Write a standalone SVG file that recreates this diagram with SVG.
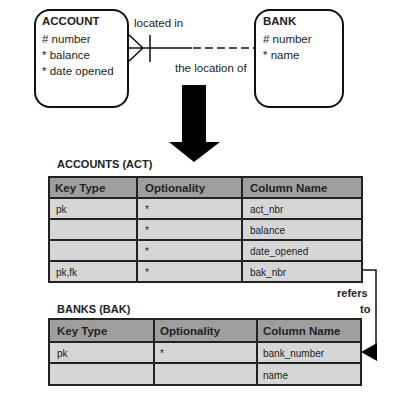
<svg xmlns="http://www.w3.org/2000/svg" width="420" height="416" viewBox="0 0 420 416">
<style>
.ent{fill:#fff;stroke:#111;stroke-width:2}
.t{font-family:"Liberation Sans",Arial,sans-serif;fill:#222}
.eb{font-size:11.5px;font-weight:bold}
.er{font-size:11.5px}
.hd{fill:#9e9e9e;stroke:#222;stroke-width:2}
.rw{fill:#d6d6d6;stroke:#222;stroke-width:2}
.th{font-size:11.5px;font-weight:bold}
.td{font-size:10px}
.ln{fill:none;stroke:#111;stroke-width:1.5}
</style>
<rect width="420" height="416" fill="#fff"/>
<g id="account">
<rect class="ent" x="35" y="10" width="93" height="97" rx="15"/>
<text class="t eb" x="42" y="25">ACCOUNT</text>
<text class="t er" x="42" y="43"># number</text>
<text class="t er" x="42" y="59">* balance</text>
<text class="t er" x="42" y="75">* date opened</text>
</g>
<g id="bank">
<rect class="ent" x="255" y="10" width="88" height="97" rx="15"/>
<text class="t eb" x="263" y="25">BANK</text>
<text class="t er" x="263" y="43"># number</text>
<text class="t er" x="263" y="59">* name</text>
</g>
<g id="connectors">
<path class="ln" d="M128 48H192M128 34L143 48L128 62M150 35V62"/>
<path class="ln" d="M193 48H255" stroke-dasharray="8 4"/>
<text class="t er" x="134" y="27">located in</text>
<text class="t er" x="175" y="72">the location of</text>
<polygon points="182,85 206,85 206,142 220,142 194,162 169,142 182,142" fill="#000"/>
<path class="ln" d="M362 270H376V352"/>
<polygon points="361,352 377,343 377,361" fill="#000"/>
<text class="t th" x="337" y="297" style="font-size:11px">refers</text>
<text class="t th" x="360" y="313" style="font-size:11px">to</text>
</g>
<g id="accounts-table">
<text class="t th" x="57" y="168" style="font-size:11px">ACCOUNTS (ACT)</text>
<rect class="hd" x="49" y="177" width="88" height="21"/>
<rect class="hd" x="137" y="177" width="105" height="21"/>
<rect class="hd" x="242" y="177" width="120" height="21"/>
<rect class="rw" x="49" y="198" width="88" height="21"/>
<rect class="rw" x="137" y="198" width="105" height="21"/>
<rect class="rw" x="242" y="198" width="120" height="21"/>
<rect class="rw" x="49" y="219" width="88" height="21"/>
<rect class="rw" x="137" y="219" width="105" height="21"/>
<rect class="rw" x="242" y="219" width="120" height="21"/>
<rect class="rw" x="49" y="240" width="88" height="21"/>
<rect class="rw" x="137" y="240" width="105" height="21"/>
<rect class="rw" x="242" y="240" width="120" height="21"/>
<rect class="rw" x="49" y="261" width="88" height="21"/>
<rect class="rw" x="137" y="261" width="105" height="21"/>
<rect class="rw" x="242" y="261" width="120" height="21"/>
<text class="t th" x="55" y="192">Key Type</text>
<text class="t th" x="145" y="192">Optionality</text>
<text class="t th" x="250" y="192">Column Name</text>
<text class="t td" x="56" y="213">pk</text>
<text class="t td" x="145" y="213">*</text>
<text class="t td" x="250" y="213">act_nbr</text>
<text class="t td" x="145" y="234">*</text>
<text class="t td" x="250" y="234">balance</text>
<text class="t td" x="145" y="255">*</text>
<text class="t td" x="250" y="255">date_opened</text>
<text class="t td" x="56" y="276">pk,fk</text>
<text class="t td" x="145" y="276">*</text>
<text class="t td" x="250" y="276">bak_nbr</text>
</g>
<g id="banks-table">
<text class="t th" x="57" y="313" style="font-size:11px">BANKS (BAK)</text>
<rect class="hd" x="49" y="319" width="105" height="23"/>
<rect class="hd" x="154" y="319" width="103" height="23"/>
<rect class="hd" x="257" y="319" width="104" height="23"/>
<rect class="rw" x="49" y="342" width="105" height="21"/>
<rect class="rw" x="154" y="342" width="103" height="21"/>
<rect class="rw" x="257" y="342" width="104" height="21"/>
<rect class="rw" x="49" y="363" width="105" height="22"/>
<rect class="rw" x="154" y="363" width="103" height="22"/>
<rect class="rw" x="257" y="363" width="104" height="22"/>
<text class="t th" x="57" y="335">Key Type</text>
<text class="t th" x="160" y="335">Optionality</text>
<text class="t th" x="263" y="335">Column Name</text>
<text class="t td" x="57" y="357">pk</text>
<text class="t td" x="160" y="357">*</text>
<text class="t td" x="263" y="357">bank_number</text>
<text class="t td" x="263" y="379">name</text>
</g>
</svg>
